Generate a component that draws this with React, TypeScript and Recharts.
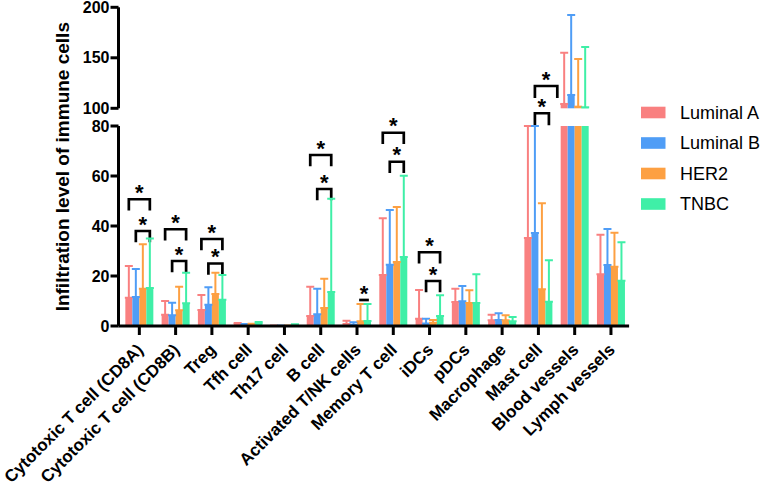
import React from 'react';
import { BarChart, Bar, XAxis, YAxis, ErrorBar } from 'recharts';

const FONT = '"Liberation Sans", Arial, Helvetica, sans-serif';

const categories = [
  'Cytotoxic T cell (CD8A)',
  'Cytotoxic T cell (CD8B)',
  'Treg',
  'Tfh cell',
  'Th17 cell',
  'B cell',
  'Activated T/NK cells',
  'Memory T cell',
  'iDCs',
  'pDCs',
  'Macrophage',
  'Mast cell',
  'Blood vessels',
  'Lymph vessels',
];

const seriesNames = ['Luminal A', 'Luminal B', 'HER2', 'TNBC'];
const seriesColors = ['#F98080', '#4F9DF6', '#FDA042', '#3FEFA7'];

// mean values
const luminalAMean = [11.3, 4.5, 6.4, 0.8, 0.1, 4.0, 0.8, 20.4, 2.9, 9.6, 2.3, 35.2, 104.3, 20.7];
const luminalBMean = [11.6, 4.3, 8.5, 0.5, 0.1, 4.7, 0.5, 24.5, 1.0, 9.9, 2.4, 37.2, 113.2, 24.4];
const her2Mean = [14.9, 6.3, 12.8, 0.6, 0.1, 7.2, 1.9, 25.6, 1.3, 9.2, 2.3, 14.7, 101.6, 23.7];
const tnbcMean = [15.2, 9.1, 10.5, 1.0, 0.4, 13.6, 2.0, 27.6, 4.0, 9.2, 1.9, 9.7, 101.0, 18.1];

// top of the error bar (mean + SD)
const luminalATop = [24.0, 10.0, 12.4, 1.2, 0.1, 15.7, 2.1, 43.1, 14.4, 14.9, 4.5, 80, 155.0, 36.5];
const luminalBTop = [22.8, 9.3, 15.5, 0.8, 0.1, 14.9, 1.5, 46.4, 2.9, 16.0, 5.1, 80, 192.4, 38.8];
const her2Top = [32.7, 15.7, 21.3, 0.9, 0.1, 18.9, 8.8, 47.6, 2.4, 14.3, 4.3, 49.1, 148.8, 37.3];
const tnbcTop = [35.0, 21.3, 20.4, 1.6, 0.7, 50.9, 8.8, 60.1, 12.3, 20.7, 3.6, 26.3, 160.7, 33.5];

const bottomTicks = [0, 20, 40, 60, 80];
const topTicks = [100, 150, 200];
const bottomMax = 80;
const topMin = 100;
const topMax = 200;

// significance brackets (series index from -> to, level in axis units of the lower panel)
const brackets = [
  { category: 'Cytotoxic T cell (CD8A)', from: 0, to: 3, level: 50.7, drop: 4 },
  { category: 'Cytotoxic T cell (CD8A)', from: 1, to: 3, level: 38.0, drop: 4 },
  { category: 'Cytotoxic T cell (CD8B)', from: 0, to: 3, level: 38.7, drop: 4 },
  { category: 'Cytotoxic T cell (CD8B)', from: 1, to: 3, level: 26.0, drop: 4 },
  { category: 'Treg', from: 0, to: 3, level: 34.8, drop: 4 },
  { category: 'Treg', from: 1, to: 3, level: 25.0, drop: 4 },
  { category: 'B cell', from: 0, to: 3, level: 68.4, drop: 4 },
  { category: 'B cell', from: 1, to: 3, level: 54.8, drop: 4 },
  { category: 'Activated T/NK cells', from: 2, to: 3, level: 10.4, drop: 0 },
  { category: 'Memory T cell', from: 0, to: 3, level: 77.3, drop: 4 },
  { category: 'Memory T cell', from: 1, to: 3, level: 65.7, drop: 4 },
  { category: 'iDCs', from: 0, to: 3, level: 29.5, drop: 4 },
  { category: 'iDCs', from: 1, to: 3, level: 18.0, drop: 4 },
  { category: 'Mast cell', from: 1, to: 4.2, level: 96.0, drop: 4.3 },
  { category: 'Mast cell', from: 1, to: 3, level: 85.1, drop: 4.3 },
];

const means = [luminalAMean, luminalBMean, her2Mean, tnbcMean];
const tops = [luminalATop, luminalBTop, her2Top, tnbcTop];

const bottomData = categories.map((name, i) => {
  const row: any = { name };
  means.forEach((m, s) => {
    const v = m[i];
    row['s' + s] = Math.min(v, bottomMax);
    row['e' + s] = v >= bottomMax ? null : [0, Math.min(tops[s][i], bottomMax) - v];
  });
  return row;
});

const topData = categories.map((name, i) => {
  const row: any = { name };
  means.forEach((m, s) => {
    const v = m[i];
    row['s' + s] = v > topMin ? v : null;
    row['e' + s] = v > topMin ? [0, tops[s][i] - v] : null;
  });
  return row;
});

const STAR_SIZE = 22;

const TnbcShape = (props: any) => {
  const { x, y, width, height, fill, index } = props;
  const value = bottomData[index] ? bottomData[index].s3 : 0;
  const items = brackets.filter((b) => b.category === categories[index]);
  const base = y + height;
  const k = value > 0 ? height / value : 0;
  const toY = (v: number) => base - v * k;
  const cx = (s: number) => x + width / 2 - (3 - s) * width;
  return (
    <g>
      <rect x={x} y={y} width={width} height={height} fill={fill} />
      {k > 0 &&
        items.map((b, i) => {
          const x1 = cx(b.from);
          const x2 = cx(b.to);
          const yTop = toY(b.level);
          const yBot = toY(b.level - b.drop);
          return (
            <g key={i}>
              <path
                d={`M${x1},${yBot}V${yTop}H${x2}V${yBot}`}
                fill="none"
                stroke="#000"
                strokeWidth={2.7}
                strokeLinecap="square"
              />
              <text
                x={(x1 + x2) / 2}
                y={yTop - 12.5 + 0.6 * STAR_SIZE}
                textAnchor="middle"
                fontSize={STAR_SIZE}
                fontWeight={700}
                fontFamily={FONT}
                fill="#000"
              >
                *
              </text>
            </g>
          );
        })}
    </g>
  );
};

const XTick = (props: any) => {
  const { x, y, payload } = props;
  const px = x + 1;
  const py = y + 10;
  return (
    <text
      x={px}
      y={py}
      transform={`rotate(-45 ${px} ${py})`}
      textAnchor="end"
      dominantBaseline="central"
      fontSize={17}
      fontWeight={700}
      fontFamily={FONT}
      fill="#000"
    >
      {payload.value}
    </text>
  );
};

const axisStyle = { stroke: '#000', strokeWidth: 3 };
const tickStyle = { fill: '#000', fontSize: 16, fontWeight: 700, fontFamily: FONT };

const CHART_W = 765;
const CHART_H = 488;
const LEFT = 118.5;
const RIGHT = 135.9;

export default function App() {
  return (
    <div style={{ position: 'absolute', left: 0, top: 0, width: CHART_W, height: CHART_H, background: '#fff' }}>
      <div style={{ position: 'absolute', left: 0, top: 0 }}>
        <BarChart
          width={CHART_W}
          height={CHART_H}
          data={topData}
          margin={{ top: 7.3, right: RIGHT, bottom: 379.7, left: 0 }}
          barCategoryGap="11.4%"
          barGap={0}
        >
          <XAxis dataKey="name" hide padding={{ left: 2.7, right: 0 }} />
          <YAxis
            type="number"
            domain={[topMin, topMax]}
            ticks={topTicks}
            width={LEFT}
            axisLine={axisStyle}
            tickLine={axisStyle}
            tickSize={8}
            tickMargin={1}
            tick={tickStyle}
            interval={0}
          />
          {seriesNames.map((n, s) => (
            <Bar key={n} dataKey={'s' + s} name={n} fill={seriesColors[s]} isAnimationActive={false}>
              <ErrorBar dataKey={'e' + s} width={4} strokeWidth={2} stroke={seriesColors[s]} direction="y" isAnimationActive={false} />
            </Bar>
          ))}
        </BarChart>
      </div>
      <div style={{ position: 'absolute', left: 0, top: 0 }}>
        <BarChart
          width={CHART_W}
          height={CHART_H}
          data={bottomData}
          margin={{ top: 126, right: RIGHT, bottom: 0, left: 0 }}
          barCategoryGap="11.4%"
          barGap={0}
        >
          <XAxis
            dataKey="name"
            height={162}
            interval={0}
            padding={{ left: 2.7, right: 0 }}
            axisLine={axisStyle}
            tickLine={axisStyle}
            tickSize={9}
            tick={<XTick />}
          />
          <YAxis
            type="number"
            domain={[0, bottomMax]}
            ticks={bottomTicks}
            width={LEFT}
            axisLine={axisStyle}
            tickLine={axisStyle}
            tickSize={8}
            tickMargin={1}
            tick={tickStyle}
            interval={0}
          />
          {seriesNames.map((n, s) => (
            <Bar
              key={n}
              dataKey={'s' + s}
              name={n}
              fill={seriesColors[s]}
              isAnimationActive={false}
              shape={s === 3 ? (p: any) => <TnbcShape {...p} /> : undefined}
            >
              <ErrorBar dataKey={'e' + s} width={4} strokeWidth={2} stroke={seriesColors[s]} direction="y" isAnimationActive={false} />
            </Bar>
          ))}
        </BarChart>
      </div>
      <svg
        width={CHART_W}
        height={CHART_H}
        style={{ position: 'absolute', left: 0, top: 0, pointerEvents: 'none' }}
      >
        <text
          x={63}
          y={166.7}
          transform="rotate(-90 63 166.7)"
          textAnchor="middle"
          dominantBaseline="central"
          fontSize={19}
          fontWeight={700}
          fontFamily={FONT}
          fill="#000"
        >
          Infiltration level of immune cells
        </text>
        {seriesNames.map((n, s) => {
          const cy = 112.5 + s * 30.5;
          return (
            <g key={n}>
              <rect x={641} y={cy - 5.8} width={24.5} height={11.6} fill={seriesColors[s]} />
              <text x={680} y={cy + 0.358 * 18} fontSize={18} fontFamily={FONT} fill="#000">
                {n}
              </text>
            </g>
          );
        })}
      </svg>
    </div>
  );
}
